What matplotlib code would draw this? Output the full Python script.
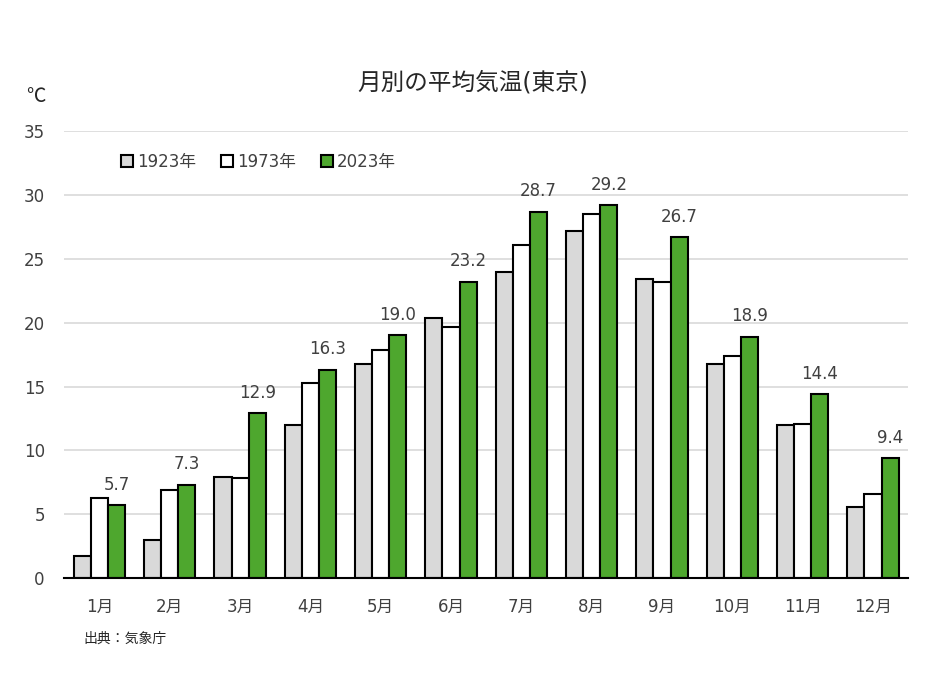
import matplotlib
matplotlib.use("Agg")
from matplotlib import pyplot as plt
import matplotlib.patches as mpatches
import numpy as np

# DejaVu for latin/digits (Verdana-like), Noto CJK for the Japanese glyphs
plt.rcParams['font.family'] = ['DejaVu Sans', 'Noto Sans CJK JP']

months = ["1月", "2月", "3月", "4月", "5月", "6月", "7月", "8月", "9月", "10月", "11月", "12月"]
t1923 = [1.7, 3.0, 7.9, 12.0, 16.8, 20.4, 24.0, 27.2, 23.4, 16.8, 12.0, 5.6]
t1973 = [6.3, 6.9, 7.8, 15.3, 17.9, 19.7, 26.1, 28.5, 23.2, 17.4, 12.1, 6.6]
t2023 = [5.7, 7.3, 12.9, 16.3, 19.0, 23.2, 28.7, 29.2, 26.7, 18.9, 14.4, 9.4]
series_names = ["1923年", "1973年", "2023年"]

c_gray = '#d9d9d9'
c_white = '#ffffff'
c_green = '#4ea72e'

fig = plt.figure(figsize=(9.45, 6.8), dpi=100)
ax = fig.add_axes([0.068, 0.15, 0.893, 0.657])

x = np.arange(len(months))
w = 0.243
for off, vals, col in zip([-w, 0, w], [t1923, t1973, t2023], [c_gray, c_white, c_green]):
    ax.bar(x + off, vals, width=w, color=col, edgecolor='black', linewidth=1.5, zorder=3)

for xi, v in zip(x, t2023):
    ax.text(xi + w, v + 0.9, f"{v:.1f}", ha='center', va='bottom', fontsize=12, color='#404040')

ax.set_xlim(-0.5, len(months) - 0.5)
ax.set_ylim(0, 35)
ax.set_yticks(range(0, 36, 5))
ax.set_xticks(x)
ax.set_xticklabels(months)
ax.tick_params(axis='both', length=0, labelsize=12, colors='#404040')
ax.tick_params(axis='x', pad=14)
ax.tick_params(axis='y', pad=14)
ax.grid(axis='y', color='#d9d9d9', linewidth=1.2, zorder=0)
for s in ['top', 'right', 'left']:
    ax.spines[s].set_visible(False)
ax.spines['bottom'].set_color('black')
ax.spines['bottom'].set_linewidth(1.5)
ax.spines['bottom'].set_zorder(4)

handles = [mpatches.Patch(facecolor=c, edgecolor='black', linewidth=1.5, label=n)
           for c, n in zip([c_gray, c_white, c_green], series_names)]
ax.legend(handles=handles, loc='upper left', bbox_to_anchor=(0.05, 0.985), ncol=3,
          frameon=False, fontsize=12, handlelength=0.7, handleheight=0.7,
          handletextpad=0.25, columnspacing=1.5, labelcolor='#404040')

fig.text(0.5, 0.878, "月別の平均気温(東京)", ha='center', va='center', fontsize=17, color='#262626')
fig.text(0.038, 0.858, "℃", ha='center', va='center', fontsize=14, color='#262626',
         family=['Noto Sans CJK JP', 'DejaVu Sans'])
fig.text(0.088, 0.06, "出典：気象庁", ha='left', va='center', fontsize=10, color='#262626')

fig.savefig("out.png", dpi=100)
